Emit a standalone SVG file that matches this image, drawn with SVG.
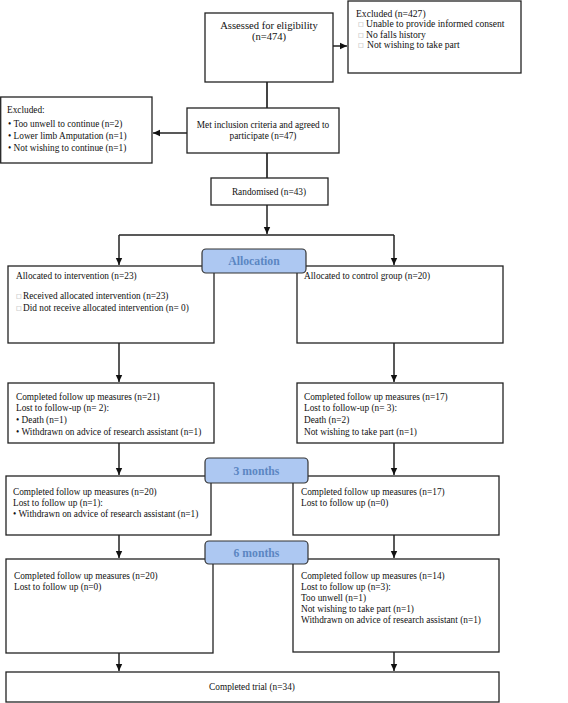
<svg xmlns="http://www.w3.org/2000/svg" width="568" height="703" viewBox="0 0 568 703">
<defs>
<marker id="ah" markerWidth="8" markerHeight="8" refX="7" refY="4" orient="auto" markerUnits="userSpaceOnUse">
<path d="M0,0.8 L7,4 L0,7.2 Z" fill="#111"/>
</marker>
</defs>
<style>
.box{fill:#fff;stroke:#222;stroke-width:1.3}
.t{font-family:"Liberation Serif","Times New Roman",serif;font-size:9.3px;fill:#111}
.tc{text-anchor:middle}
.big{font-size:10.6px}
.mid{font-size:9.6px}
.sq{font-family:"DejaVu Sans",sans-serif;font-size:6px;fill:#999}
.pill{fill:#adc8f2;stroke:#333;stroke-width:1.2}
.pt{font-family:"Liberation Serif","Times New Roman",serif;font-size:11.7px;font-weight:bold;fill:#5b86c2;text-anchor:middle}
.c{stroke:#222;stroke-width:1.5;fill:none}
.ca{stroke:#222;stroke-width:1.5;fill:none;marker-end:url(#ah)}
</style>
<rect width="568" height="703" fill="#fff"/>

<g id="connectors">
<line class="ca" x1="333" y1="46" x2="347" y2="46"/>
<line class="c" x1="267" y1="82" x2="267" y2="108" style="stroke:#444;stroke-width:2"/>
<line class="ca" x1="187" y1="133" x2="153" y2="133"/>
<line class="c" x1="267" y1="153" x2="267" y2="178" style="stroke:#444;stroke-width:2"/>
<line class="ca" x1="267" y1="205" x2="267" y2="234"/>
<line class="c" x1="119" y1="235" x2="394" y2="235"/>
<line class="ca" x1="119" y1="235" x2="119" y2="265"/>
<line class="ca" x1="394" y1="235" x2="394" y2="265"/>
<line class="ca" x1="119" y1="343" x2="119" y2="382"/>
<line class="ca" x1="394" y1="343" x2="394" y2="382"/>
<line class="ca" x1="119" y1="443" x2="119" y2="475"/>
<line class="ca" x1="394" y1="443" x2="394" y2="475"/>
<line class="ca" x1="119" y1="535" x2="119" y2="558"/>
<line class="ca" x1="394" y1="535" x2="394" y2="558"/>
<line class="ca" x1="119" y1="653" x2="119" y2="671"/>
<line class="ca" x1="394" y1="652" x2="394" y2="671"/>
</g>

<g id="assessed">
<rect class="box" x="205" y="13" width="128" height="69"/>
<text class="t big tc" x="269" y="28.5">Assessed for eligibility</text>
<text class="t big tc" x="269" y="39.5">(n=474)</text>
</g>

<g id="excluded-top">
<rect class="box" x="348" y="1" width="173" height="72"/>
<text class="t mid" x="356" y="16.5">Excluded (n=427)</text>
<text class="sq" x="358" y="26">□</text>
<text class="t mid" x="366" y="27">Unable to provide informed consent</text>
<text class="sq" x="358" y="36.5">□</text>
<text class="t mid" x="366" y="37.5">No falls history</text>
<text class="sq" x="358" y="47">□</text>
<text class="t mid" x="367" y="48">Not wishing to take part</text>
</g>

<g id="excluded-left">
<rect class="box" x="0.7" y="97" width="151.3" height="66"/>
<text class="t" x="7" y="112.5">Excluded:</text>
<text class="t" x="8" y="127">• Too unwell to continue (n=2)</text>
<text class="t" x="8" y="139">• Lower limb Amputation (n=1)</text>
<text class="t" x="8" y="151">• Not wishing to continue (n=1)</text>
</g>

<g id="met">
<rect class="box" x="187" y="108" width="152" height="45"/>
<text class="t tc" x="263" y="127.5">Met inclusion criteria and agreed to</text>
<text class="t tc" x="263" y="139">participate (n=47)</text>
</g>

<g id="randomised">
<rect class="box" x="211" y="178" width="117" height="27"/>
<text class="t tc" x="269" y="195">Randomised (n=43)</text>
</g>

<g id="alloc-left">
<rect class="box" x="8" y="266" width="206" height="77"/>
<text class="t" x="16" y="278.5">Allocated to intervention (n=23)</text>
<text class="sq" x="16" y="298">□</text>
<text class="t" x="23" y="298.5">Received allocated intervention (n=23)</text>
<text class="sq" x="16" y="310">□</text>
<text class="t" x="23" y="310.5">Did not receive allocated intervention (n= 0)</text>
</g>

<g id="alloc-right">
<rect class="box" x="297" y="266" width="206" height="77"/>
<text class="t" x="304" y="278.5">Allocated to control group (n=20)</text>
</g>

<g id="fu1-left">
<rect class="box" x="8" y="383" width="206" height="60"/>
<text class="t" x="16" y="399.5">Completed follow up measures (n=21)</text>
<text class="t" x="16" y="411">Lost to follow-up (n= 2):</text>
<text class="t" x="16" y="423">• Death (n=1)</text>
<text class="t" x="16" y="435">• Withdrawn on advice of research assistant (n=1)</text>
</g>

<g id="fu1-right">
<rect class="box" x="297" y="383" width="206" height="60"/>
<text class="t" x="304" y="399.5">Completed follow up measures (n=17)</text>
<text class="t" x="304" y="411">Lost to follow-up (n= 3):</text>
<text class="t" x="304" y="423">Death (n=2)</text>
<text class="t" x="304" y="435">Not wishing to take part (n=1)</text>
</g>

<g id="fu2-left">
<rect class="box" x="6" y="476" width="205" height="59"/>
<text class="t" x="13" y="494.5">Completed follow up measures (n=20)</text>
<text class="t" x="13" y="505.5">Lost to follow up (n=1):</text>
<text class="t" x="13" y="516.5">• Withdrawn on advice of research assistant (n=1)</text>
</g>

<g id="fu2-right">
<rect class="box" x="293" y="476" width="206" height="59"/>
<text class="t" x="301" y="494.5">Completed follow up measures (n=17)</text>
<text class="t" x="301" y="505.5">Lost to follow up (n=0)</text>
</g>

<g id="fu3-left">
<rect class="box" x="6" y="559" width="207" height="94"/>
<text class="t" x="14" y="578.5">Completed follow up measures (n=20)</text>
<text class="t" x="14" y="589.5">Lost to follow up (n=0)</text>
</g>

<g id="fu3-right">
<rect class="box" x="293" y="559" width="206" height="93"/>
<text class="t" x="301" y="578.5">Completed follow up measures (n=14)</text>
<text class="t" x="301" y="589.5">Lost to follow up (n=3):</text>
<text class="t" x="301" y="600.5">Too unwell (n=1)</text>
<text class="t" x="301" y="611.5">Not wishing to take part (n=1)</text>
<text class="t" x="301" y="622.5">Withdrawn on advice of research assistant (n=1)</text>
</g>

<g id="completed">
<rect class="box" x="6" y="672" width="493" height="30"/>
<text class="t tc" x="252" y="690">Completed trial (n=34)</text>
</g>

<g id="pill-allocation">
<rect class="pill" x="202" y="249" width="104" height="24" rx="4"/>
<text class="pt" x="254" y="265">Allocation</text>
</g>
<g id="pill-3months">
<rect class="pill" x="205" y="458" width="103" height="25" rx="4"/>
<text class="pt" x="256.5" y="474.5">3 months</text>
</g>
<g id="pill-6months">
<rect class="pill" x="205" y="541" width="103" height="23" rx="4"/>
<text class="pt" x="256.5" y="556.5">6 months</text>
</g>
</svg>
